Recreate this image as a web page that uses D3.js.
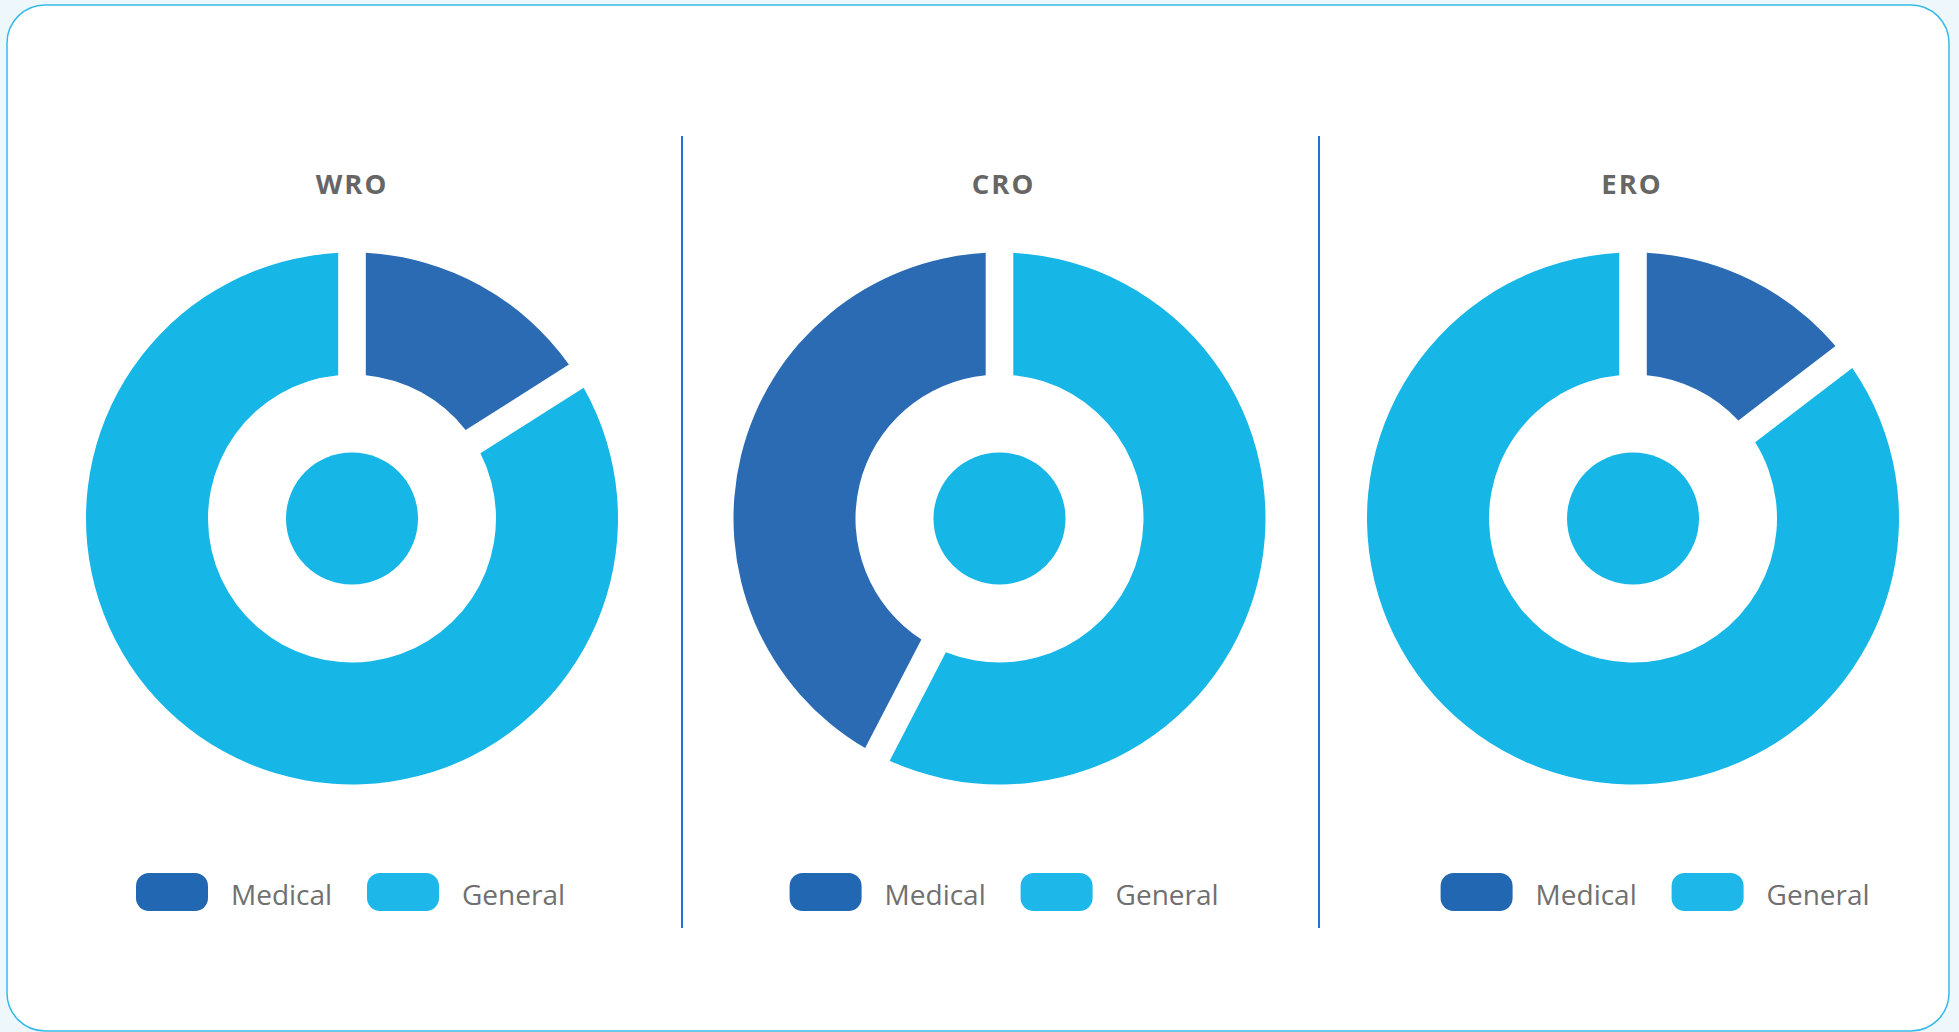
<!DOCTYPE html>
<html>
  <head>
    <meta charset="utf-8">
    <title>Medical vs General by region</title>
    <script src="https://d3js.org/d3.v7.min.js"></script>
    <style>
      body {
        margin: 0;
        background-color: #eef8fc;
      }
      text {
        font-family: "Open Sans", "DejaVu Sans", sans-serif;
      }
    </style>
  </head>
  <body>
    <div id="chart"></div>
    <script>
      // data
      var regions = ["WRO", "CRO", "ERO"];
      var categories = ["Medical", "General"];
      var medicalShare = [16, 42.4, 14.6];
      var generalShare = [84, 57.6, 85.4];

      // CRO is drawn with General first (clockwise from 12 o'clock)
      var sliceOrder = [
        ["Medical", "General"],
        ["General", "Medical"],
        ["Medical", "General"]
      ];

      var width = 1959;
      var height = 1032;

      var arcColor = { "Medical": "#2a6bb3", "General": "#16b6e7" };
      var swatchColor = { "Medical": "#2167b1", "General": "#1db7e9" };

      var centersX = [352, 999.5, 1633];
      var titleX = [352, 1003.5, 1632];
      var centerY = 518.5;
      var legendStart = [136, 789.6, 1440.6];
      var dividers = [682, 1319];

      var svg = d3.select("#chart")
        .append("svg")
        .attr("width", width)
        .attr("height", height);

      // card
      svg.append("rect")
        .attr("x", 7)
        .attr("y", 5)
        .attr("width", 1942)
        .attr("height", 1026)
        .attr("rx", 38)
        .attr("ry", 38)
        .attr("fill", "#ffffff")
        .attr("stroke", "#36bbe8")
        .attr("stroke-width", 1.5);

      svg.selectAll("line.divider")
        .data(dividers)
        .enter()
        .append("line")
        .attr("class", "divider")
        .attr("x1", function(d) { return d; })
        .attr("x2", function(d) { return d; })
        .attr("y1", 136)
        .attr("y2", 928)
        .attr("stroke", "#2a6fcf")
        .attr("stroke-width", 2);

      var pie = d3.pie()
        .sort(null)
        .value(function(d) { return d.value; });

      var arc = d3.arc()
        .innerRadius(144)
        .outerRadius(266)
        .padRadius(100)
        .padAngle(0.277);

      regions.forEach(function(region, i) {
        var values = { "Medical": medicalShare[i], "General": generalShare[i] };
        var slices = sliceOrder[i].map(function(c) {
          return { category: c, value: values[c] };
        });

        var g = svg.append("g")
          .attr("transform", "translate(" + centersX[i] + "," + centerY + ")");

        g.selectAll("path")
          .data(pie(slices))
          .enter()
          .append("path")
          .attr("d", arc)
          .attr("fill", function(d) { return arcColor[d.data.category]; });

        g.append("circle")
          .attr("r", 66)
          .attr("fill", arcColor["General"]);

        svg.append("text")
          .attr("x", titleX[i])
          .attr("y", 194)
          .attr("text-anchor", "middle")
          .attr("font-size", 27.5)
          .attr("font-weight", 700)
          .attr("letter-spacing", 2)
          .attr("fill", "#666666")
          .text(region);

        // legend
        var legend = svg.append("g")
          .attr("transform", "translate(" + legendStart[i] + ",873)");

        var item = legend.selectAll("g")
          .data(categories)
          .enter()
          .append("g")
          .attr("transform", function(d, j) { return "translate(" + (j * 231) + ",0)"; });

        item.append("rect")
          .attr("width", 72)
          .attr("height", 38)
          .attr("rx", 13)
          .attr("ry", 13)
          .attr("fill", function(d) { return swatchColor[d]; });

        item.append("text")
          .attr("x", 95)
          .attr("y", 32)
          .attr("font-size", 28)
          .attr("fill", "#707070")
          .text(function(d) { return d; });
      });
    </script>
  </body>
</html>
